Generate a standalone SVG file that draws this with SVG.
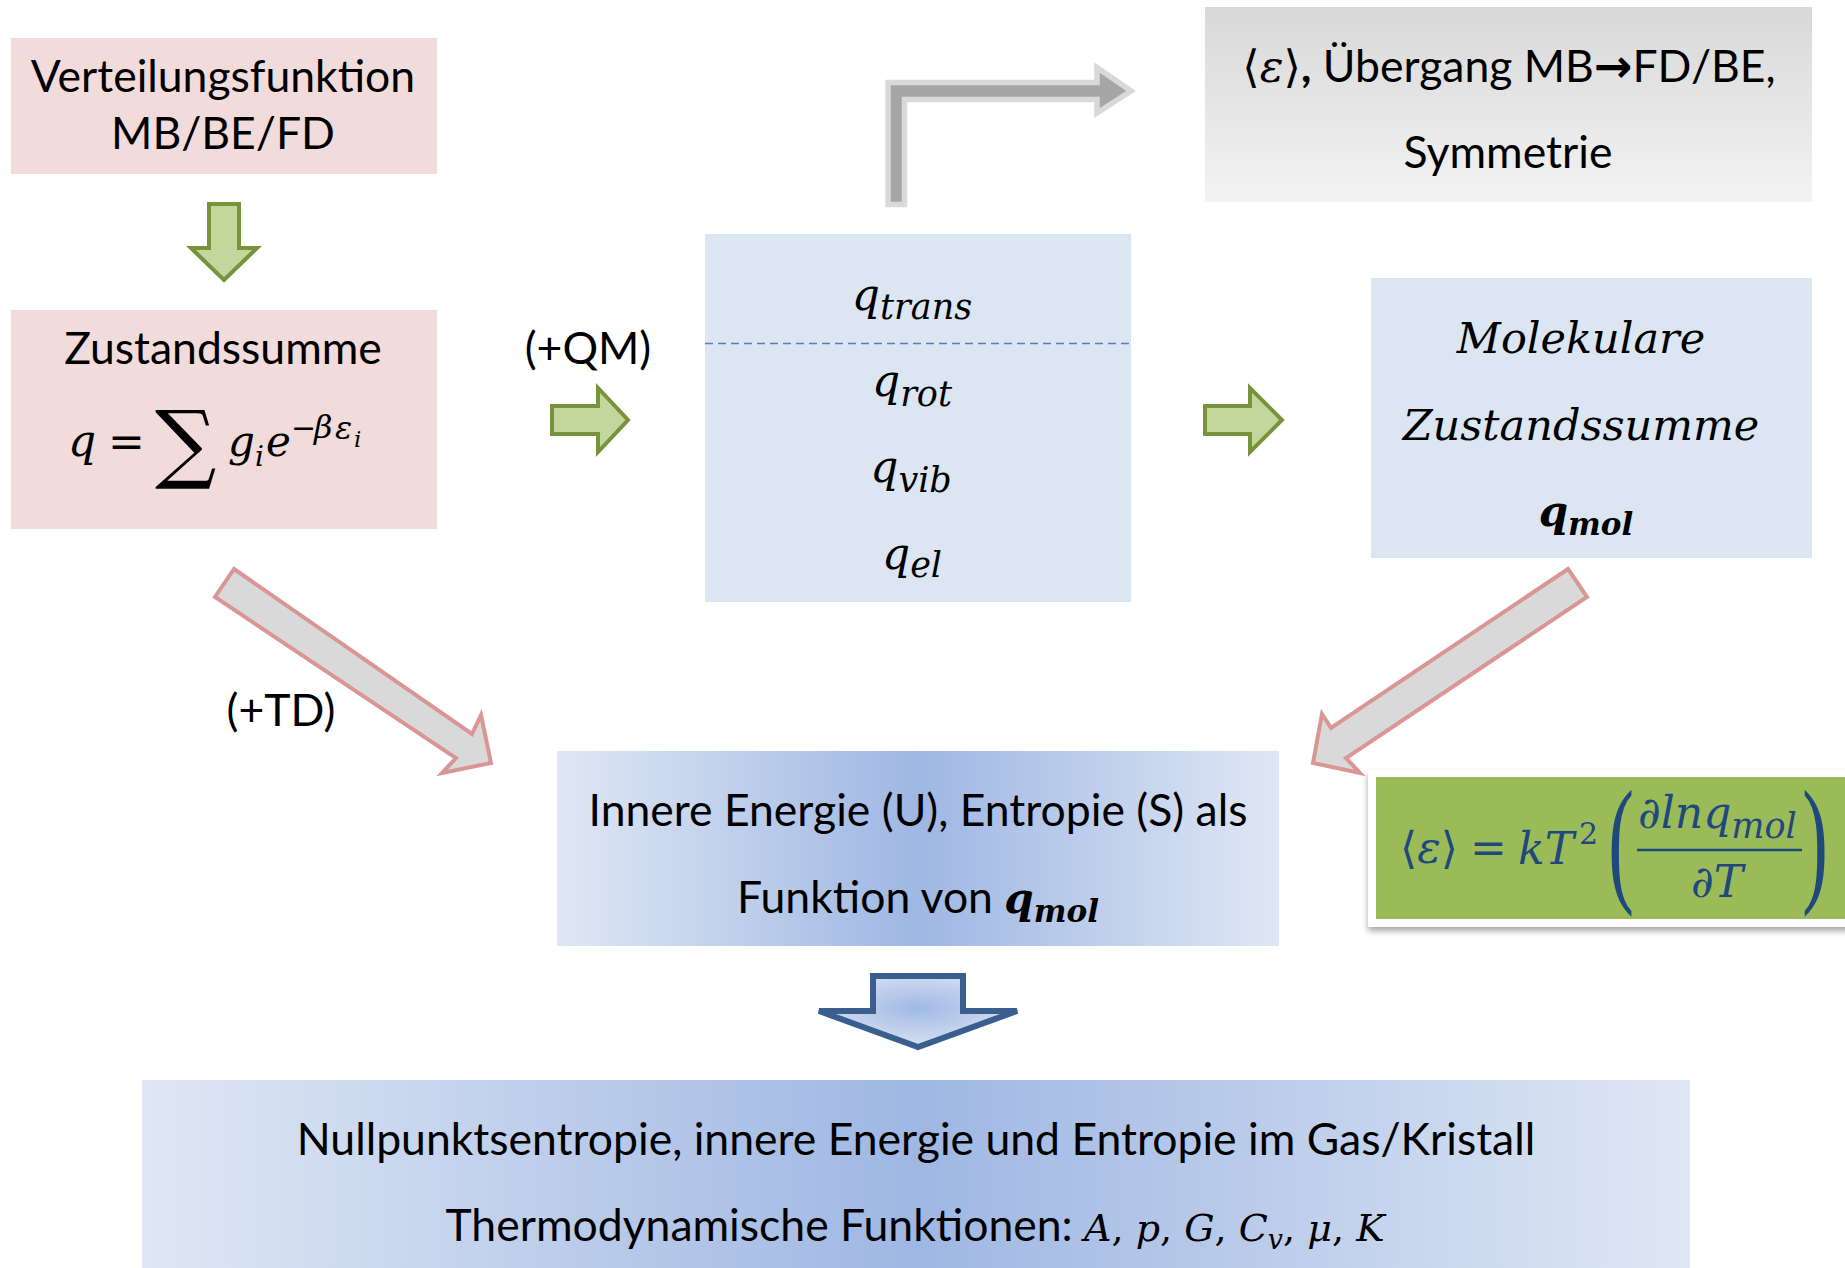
<svg xmlns="http://www.w3.org/2000/svg" width="1845" height="1268" viewBox="0 0 1845 1268">
<defs>
  <linearGradient id="gGray" x1="0" y1="0" x2="0" y2="1">
    <stop offset="0" stop-color="#d8d8d8"/><stop offset="1" stop-color="#f3f3f3"/>
  </linearGradient>
  <linearGradient id="gBlueH" x1="0" y1="0" x2="1" y2="0">
    <stop offset="0" stop-color="#dfe7f4"/><stop offset="0.5" stop-color="#9fb7e3"/><stop offset="1" stop-color="#dfe7f4"/>
  </linearGradient>
  <radialGradient id="gBlueR" cx="0.5" cy="0.45" r="0.6">
    <stop offset="0" stop-color="#a0b9e4"/><stop offset="1" stop-color="#dce5f4"/>
  </radialGradient>
  <filter id="shadow" x="-5%" y="-10%" width="110%" height="130%">
    <feDropShadow dx="0" dy="4" stdDeviation="3" flood-color="#000" flood-opacity="0.35"/>
  </filter>
</defs>
<style>
  .t{font-family:Lato,'Open Sans',sans-serif;font-size:44.5px;fill:#000}
  .m{font-family:'DejaVu Serif',serif;font-style:italic}
  .mu{font-family:'DejaVu Serif',serif;font-style:normal}
  .mb{font-family:'DejaVu Serif',serif;font-style:italic;font-weight:bold}
  .paren{font-family:'Liberation Serif',serif;font-size:140px}
  .pink{fill:#f2dcdb}
  .lblue{fill:#dce6f2}
  .garrow{fill:#c3d69b;stroke:#77933c;stroke-width:4}
  .parrow{fill:#d9d9d9;stroke:#d99694;stroke-width:4}
  .blue{fill:#1f497d}
</style>

<g id="connectors">
  <polygon class="garrow" points="209,204 239,204 239,248 257,248 224,280 191,248 209,248"/>
  <polygon class="garrow" points="552,406 598,406 598,388 628,420 598,452 598,434 552,434"/>
  <polygon class="garrow" points="1205,406 1250,406 1250,388 1282,420 1250,452 1250,434 1205,434"/>
  <polygon points="888,204.5 888,82.5 1097,82.5 1097,67.5 1131,91 1097,113 1097,99.5 904.5,99.5 904.5,204.5" fill="#a6a6a6" stroke="#d9d9d9" stroke-width="5.5"/>
  <polygon class="parrow" points="234,569 472,734 481,715 491,763 442,773 456,758 215,597"/>
  <polygon class="parrow" points="1568,569 1331,728 1322,714 1313,763 1360,773 1346,758 1587,597"/>
  <polygon points="873,976 963,976 963,1011 1017,1011 918,1047 819,1011 873,1011" fill="url(#gBlueR)" stroke="#3a5f8f" stroke-width="6"/>
  <text class="t" x="588" y="364" text-anchor="middle">(+QM)</text>
  <text class="t" x="281" y="726" text-anchor="middle">(+TD)</text>
</g>

<g id="node-verteilung">
  <rect class="pink" x="11" y="38" width="426" height="136"/>
  <text class="t" x="223" y="92" text-anchor="middle">Verteilungsfunktion</text>
  <text class="t" x="223" y="149" text-anchor="middle">MB/BE/FD</text>
</g>

<g id="node-zustandssumme">
  <rect class="pink" x="11" y="310" width="426" height="219"/>
  <text class="t" x="223" y="364" text-anchor="middle">Zustandssumme</text>
  <text class="m" font-size="44" y="456"><tspan x="68">q</tspan><tspan class="mu" x="108" y="457">=</tspan><tspan class="mu" font-size="86" x="155" y="472">∑</tspan><tspan font-size="42" x="228" y="456">g</tspan><tspan font-size="28" x="255" y="466">i</tspan><tspan font-size="42" x="266" y="456">e</tspan><tspan class="mu" font-size="30" x="291" y="438">−</tspan><tspan font-size="32" x="314" y="438">β</tspan><tspan font-size="32" x="335" y="439">ε</tspan><tspan font-size="23" x="354" y="447">i</tspan></text>
</g>

<g id="node-qparts">
  <rect class="lblue" x="705" y="234" width="426" height="368"/>
  <line x1="705" y1="343.5" x2="1131" y2="343.5" stroke="#4f81bd" stroke-width="1.5" stroke-dasharray="8 5"/>
  <text class="m" font-size="44" x="912" y="310" text-anchor="middle">q<tspan font-size="35" dy="9">trans</tspan></text>
  <text class="m" font-size="44" x="912" y="396" text-anchor="middle">q<tspan font-size="35" dy="10">rot</tspan></text>
  <text class="m" font-size="44" x="911" y="482" text-anchor="middle">q<tspan font-size="35" dy="10">vib</tspan></text>
  <text class="m" font-size="44" x="912" y="569" text-anchor="middle">q<tspan font-size="35" dy="8">el</tspan></text>
</g>

<g id="node-uebergang">
  <rect x="1205" y="7" width="607" height="195" fill="url(#gGray)"/>
  <text class="t" x="1509" y="82" text-anchor="middle"><tspan class="mu">⟨</tspan><tspan class="m">ε</tspan><tspan class="mu">⟩</tspan><tspan font-weight="bold">,</tspan> Übergang MB<tspan font-family="'DejaVu Sans',sans-serif" font-weight="bold" font-size="46">→</tspan>FD/BE,</text>
  <text class="t" x="1508" y="168" text-anchor="middle">Symmetrie</text>
</g>

<g id="node-molekulare">
  <rect class="lblue" x="1371" y="278" width="441" height="280"/>
  <text class="m" font-size="43" x="1581" y="353" text-anchor="middle">Molekulare</text>
  <text class="m" font-size="43" x="1581" y="440" text-anchor="middle">Zustandssumme</text>
  <text class="mb" font-size="42" x="1586" y="526" text-anchor="middle">q<tspan font-size="31" dy="9">mol</tspan></text>
</g>

<g id="node-innere">
  <rect x="557" y="751" width="722" height="195" fill="url(#gBlueH)"/>
  <text class="t" x="918" y="826" text-anchor="middle">Innere Energie (U), Entropie (S) als</text>
  <text class="t" x="918" y="913" text-anchor="middle">Funktion von <tspan class="mb" font-size="42">q</tspan><tspan class="mb" font-size="31" dy="9">mol</tspan></text>
</g>

<g id="node-formel">
  <rect x="1368" y="770" width="490" height="157" fill="#fff" filter="url(#shadow)"/>
  <rect x="1376" y="777" width="480" height="142" fill="#9bbb59"/>
  <text class="m blue" font-size="44" y="863"><tspan class="mu" x="1400">⟨</tspan><tspan>ε</tspan><tspan class="mu">⟩</tspan><tspan class="mu" x="1470">=</tspan><tspan x="1518" y="864">kT</tspan><tspan class="mu" font-size="30" dx="5" dy="-20">2</tspan></text>
  <text class="paren blue" transform="translate(1621,0) scale(0.55,1)" x="0" y="887" text-anchor="middle">(</text>
  <text class="m blue" font-size="44" x="1638" y="828">∂lnq<tspan font-size="35" dy="10">mol</tspan></text>
  <line x1="1637" y1="850" x2="1802" y2="850" stroke="#1f497d" stroke-width="2.5"/>
  <text class="m blue" font-size="44" x="1717" y="897" text-anchor="middle">∂T</text>
  <text class="paren blue" transform="translate(1815,0) scale(0.55,1)" x="0" y="887" text-anchor="middle">)</text>
</g>

<g id="node-thermo">
  <rect x="142" y="1080" width="1548" height="200" fill="url(#gBlueH)"/>
  <text class="t" x="916" y="1155" text-anchor="middle">Nullpunktsentropie, innere Energie und Entropie im Gas/Kristall</text>
  <text class="t" x="915" y="1241" text-anchor="middle">Thermodynamische Funktionen: <tspan class="m" font-size="38">A</tspan><tspan class="mu" font-size="38">, </tspan><tspan class="m" font-size="38">p</tspan><tspan class="mu" font-size="38">, </tspan><tspan class="m" font-size="38">G</tspan><tspan class="mu" font-size="38">, </tspan><tspan class="m" font-size="38">C</tspan><tspan class="m" font-size="27" dy="8">v</tspan><tspan class="mu" font-size="38" dy="-8">, </tspan><tspan class="m" font-size="38">μ</tspan><tspan class="mu" font-size="38">, </tspan><tspan class="m" font-size="38">K</tspan></text>
</g>
</svg>
